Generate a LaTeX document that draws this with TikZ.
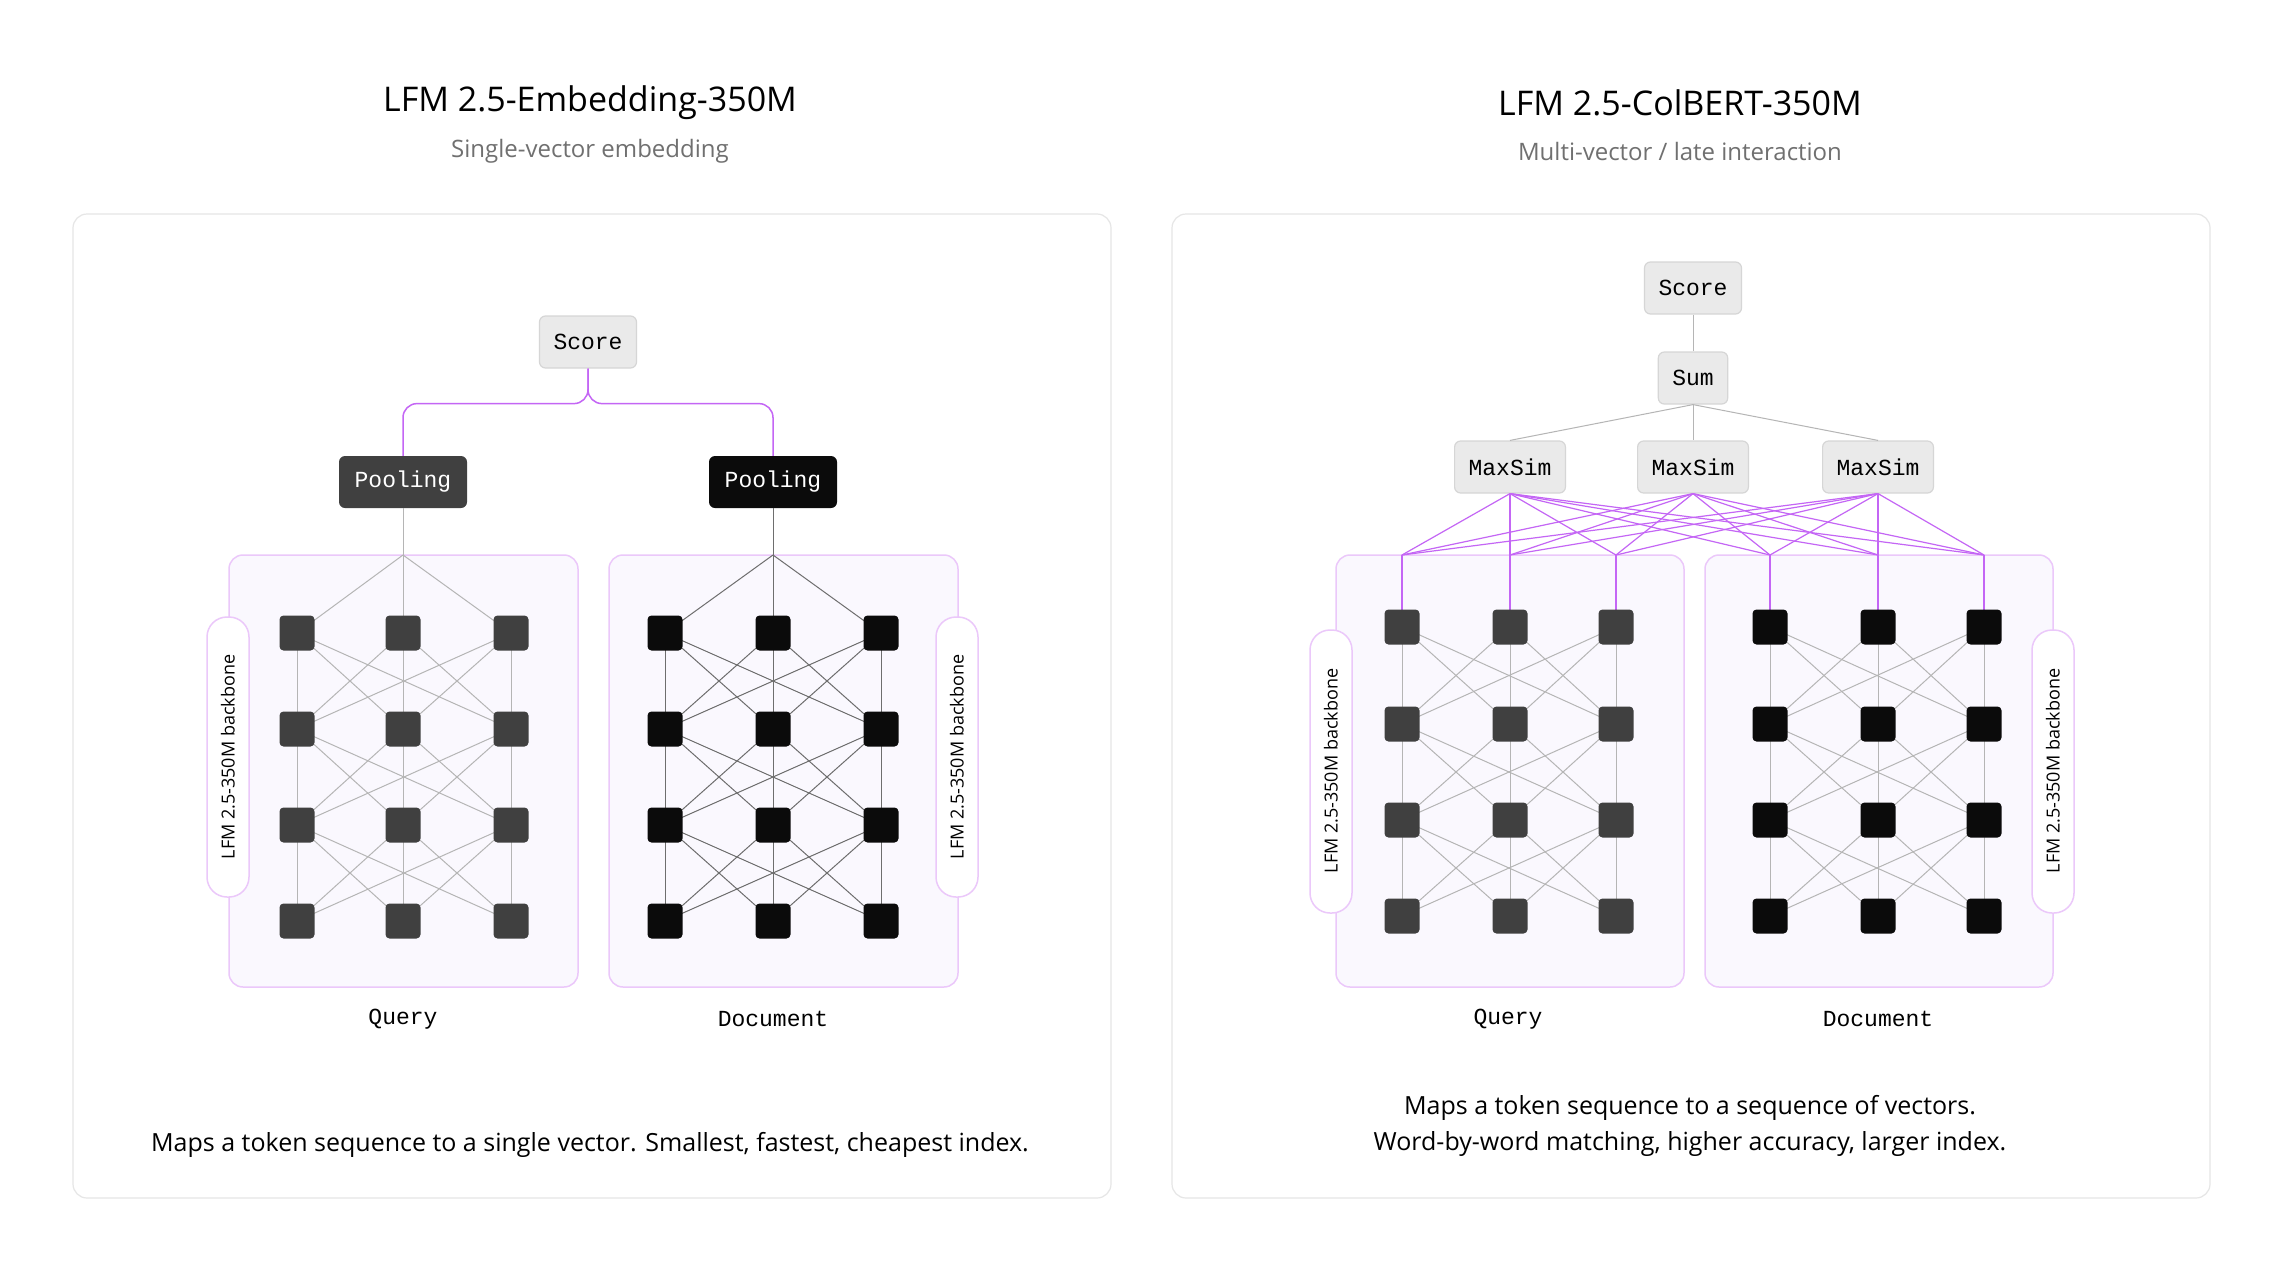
\documentclass[tikz,border=0pt]{standalone}
\usepackage{fontspec}
\setmainfont{Open Sans}
\setmonofont{Liberation Mono}
\usetikzlibrary{calc}
\definecolor{purp}{HTML}{C466F5}
\definecolor{lpurp}{HTML}{EBC8FA}
\definecolor{bgp}{HTML}{FAF8FE}
\definecolor{dnode}{HTML}{404040}
\definecolor{bnode}{HTML}{0B0B0B}
\definecolor{gline}{HTML}{B5B5B5}
\definecolor{dline}{HTML}{6E6E6E}
\definecolor{panel}{HTML}{E6E6E6}
\definecolor{gbox}{HTML}{EAEAEA}
\definecolor{gborder}{HTML}{D6D6D6}
\definecolor{subt}{HTML}{707070}
\tikzset{
 panelbox/.style={draw=panel,line width=1.2pt,rounded corners=14pt,fill=white},
 netbox/.style={draw=lpurp,line width=1.5pt,rounded corners=14pt,fill=bgp},
 pill/.style={draw=lpurp,line width=1.5pt,rounded corners=20pt,fill=white},
 pilltext/.style={rotate=90,font=\fontsize{18}{20}\selectfont},
 graybox/.style={draw=gborder,line width=1.2pt,fill=gbox,rounded corners=6pt,minimum height=52pt,inner xsep=14pt,font=\ttfamily\fontsize{23}{26}\selectfont},
 poolbox/.style={rounded corners=6pt,minimum height=52pt,minimum width=128pt,text=white,font=\ttfamily\fontsize{23}{26}\selectfont},
 qn/.style={fill=dnode,rounded corners=4pt,minimum size=35pt,inner sep=0pt},
 dn/.style={fill=bnode,rounded corners=4pt,minimum size=35pt,inner sep=0pt},
 qline/.style={draw=gline,line width=1pt},
 dlineS/.style={draw=dline,line width=1pt},
 pline/.style={draw=purp,line width=1.5pt},
 title/.style={font=\fontsize{34}{40}\selectfont},
 subtitle/.style={font=\fontsize{24}{28}\selectfont,text=subt},
 caption/.style={font=\fontsize{25}{36}\selectfont,align=center},
 lbl/.style={font=\ttfamily\fontsize{23}{26}\selectfont},
}
\begin{document}
\begin{tikzpicture}[x=1pt,y=-1pt]
\useasboundingbox (0,0) rectangle (2271,1277);
\fill[white] (0,0) rectangle (2271,1277);
% titles
\node[title] (t1) at (590,103) {LFM 2.5-Embedding-350M};
\node[subtitle] (s1) at (590,151) {Single-vector embedding};
\node[title] (t2) at (1680,103) {LFM 2.5-ColBERT-350M};
\node[subtitle] (s2) at (1680,151) {Multi-vector / late interaction};
% panels
\draw[panelbox] (73,214) rectangle (1111,1198);
\draw[panelbox] (1172,214) rectangle (2210,1198);
% ===== LEFT =====
\draw[netbox] (229,555) rectangle (578,987);
\draw[netbox] (609,555) rectangle (958,987);
\coordinate (qa) at (403,555);
\coordinate (da) at (773,555);
\foreach \r/\y in {1/633,2/729,3/825,4/921}{
  \foreach \c/\x in {1/297,2/403,3/511}{\coordinate (LQ\r\c) at (\x,\y);}
  \foreach \c/\x in {1/665,2/773,3/881}{\coordinate (LD\r\c) at (\x,\y);}
}
\foreach \c in {1,2,3}{\draw[qline] (qa) -- (LQ1\c); \draw[dlineS] (da) -- (LD1\c);}
\foreach \r/\s in {1/2,2/3,3/4}{\foreach \a in {1,2,3}{\foreach \b in {1,2,3}{
  \draw[qline] (LQ\r\a) -- (LQ\s\b); \draw[dlineS] (LD\r\a) -- (LD\s\b);}}}
\foreach \r in {1,2,3,4}{\foreach \c in {1,2,3}{
  \node[qn] (lq\r\c) at (LQ\r\c) {}; \node[dn] (ld\r\c) at (LD\r\c) {};}}
\node[graybox] (score1) at (588,342) {Score};
\node[poolbox,fill=dnode] (pool1) at (403,482) {Pooling};
\node[poolbox,fill=bnode] (pool2) at (773,482) {Pooling};
\draw[qline] (pool1) -- (qa);
\draw[dlineS] (pool2) -- (da);
\coordinate (br) at ($(score1.south)+(0,35)$);
\draw[pline,rounded corners=14pt] (pool1.north) |- (br) -- (score1.south);
\draw[pline,rounded corners=14pt] (pool2.north) |- (br) -- (score1.south);
\draw[pill] (207,617) rectangle (249,897);
\node[pilltext] (pl1) at (228,757) {LFM 2.5-350M backbone};
\draw[pill] (936,617) rectangle (978,897);
\node[pilltext] (pl2) at (957,757) {LFM 2.5-350M backbone};
\node[lbl] (lq) at (403,1019) {Query};
\node[lbl] (ld) at (773,1019) {Document};
\node[caption] (c1) at (590,1145) {Maps a token sequence to a single vector. Smallest, fastest, cheapest index.};
% ===== RIGHT =====
\draw[netbox] (1336,555) rectangle (1684,987);
\draw[netbox] (1705,555) rectangle (2053,987);
\foreach \r/\y in {1/627,2/724,3/820,4/916}{
  \foreach \c/\x in {1/1402,2/1510,3/1616}{\coordinate (RQ\r\c) at (\x,\y);}
  \foreach \c/\x in {1/1770,2/1878,3/1984}{\coordinate (RD\r\c) at (\x,\y);}
}
\foreach \c/\x in {1/1402,2/1510,3/1616,4/1770,5/1878,6/1984}{\coordinate (F\c) at (\x,555);}
\node[graybox] (score2) at (1693,288) {Score};
\node[graybox] (sum) at (1693,378) {Sum};
\node[graybox] (m1) at (1510,467) {MaxSim};
\node[graybox] (m2) at (1693,467) {MaxSim};
\node[graybox] (m3) at (1878,467) {MaxSim};
\draw[qline] (score2) -- (sum);
\foreach \m in {m1,m2,m3}{\draw[qline] (sum.south) -- (\m.north);}
\foreach \m in {m1,m2,m3}{\foreach \f in {1,...,6}{\draw[pline,line width=1.2pt] (\m.south) -- (F\f);}}
\foreach \c in {1,2,3}{\draw[pline,line width=1.2pt] (F\c) -- (RQ1\c);}
\draw[pline,line width=1.2pt] (F4) -- (RD11);
\draw[pline,line width=1.2pt] (F5) -- (RD12);
\draw[pline,line width=1.2pt] (F6) -- (RD13);
\foreach \r/\s in {1/2,2/3,3/4}{\foreach \a in {1,2,3}{\foreach \b in {1,2,3}{
  \draw[qline] (RQ\r\a) -- (RQ\s\b); \draw[qline] (RD\r\a) -- (RD\s\b);}}}
\foreach \r in {1,2,3,4}{\foreach \c in {1,2,3}{
  \node[qn] (rq\r\c) at (RQ\r\c) {}; \node[dn] (rd\r\c) at (RD\r\c) {};}}
\draw[pill] (1310,630) rectangle (1352,913);
\node[pilltext] (pr1) at (1331,771) {LFM 2.5-350M backbone};
\draw[pill] (2032,630) rectangle (2074,913);
\node[pilltext] (pr2) at (2053,771) {LFM 2.5-350M backbone};
\node[lbl] (rlq) at (1508,1019) {Query};
\node[lbl] (rld) at (1878,1019) {Document};
\node[caption] (c2) at (1690,1126) {Maps a token sequence to a sequence of vectors.\\Word-by-word matching, higher accuracy, larger index.};
\end{tikzpicture}
\end{document}
